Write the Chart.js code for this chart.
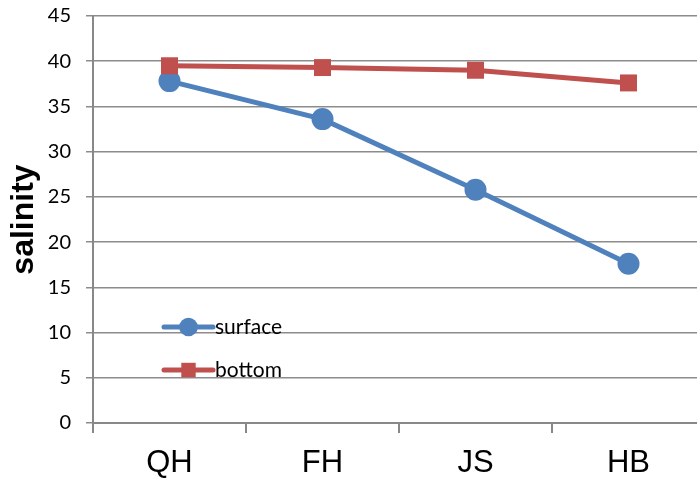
<!DOCTYPE html>
<html>
<head>
<meta charset="utf-8">
<script src="https://cdn.jsdelivr.net/npm/chart.js@4"></script>
<style>
  html, body { margin: 0; padding: 0; background: #fff; overflow: hidden; }
  #wrap { width: 720px; height: 480px; }
</style>
</head>
<body>
<div id="wrap"><canvas id="myChart" width="720" height="480"></canvas></div>
<script>
var sites = ["QH", "FH", "JS", "HB"];
var surface = [37.8, 33.6, 25.8, 17.6];
var bottom = [39.5, 39.3, 39.0, 37.6];
var yTicks = [0, 5, 10, 15, 20, 25, 30, 35, 40, 45];

var blue = "#4F81BD";
var red = "#C0504D";

// legend drawn inside the plot, like the original
var innerLegend = {
  id: "innerLegend",
  afterDatasetsDraw: function(chart) {
    var ctx = chart.ctx;
    var a = chart.chartArea;
    var rows = [
      { ds: chart.data.datasets[0], y: a.top + 311 },
      { ds: chart.data.datasets[1], y: a.top + 354 }
    ];
    ctx.save();
    rows.forEach(function(r) {
      var x0 = a.left + 71, x1 = a.left + 120, mx = (x0 + x1) / 2;
      ctx.strokeStyle = r.ds.borderColor;
      ctx.lineWidth = 5;
      ctx.lineCap = "round";
      ctx.beginPath();
      ctx.moveTo(x0, r.y);
      ctx.lineTo(x1, r.y);
      ctx.stroke();
      ctx.fillStyle = r.ds.pointBackgroundColor;
      Chart.helpers.drawPoint(ctx, { pointStyle: r.ds.pointStyle, radius: r.ds.pointRadius * 0.85, rotation: 0, borderWidth: 0 }, mx, r.y);
      ctx.fillStyle = "#000";
      ctx.font = "21px Lato, 'Liberation Sans', sans-serif";
      ctx.textBaseline = "middle";
      ctx.textAlign = "left";
      ctx.fillText(r.ds.label, x1 + 2, r.y);
    });
    ctx.restore();
  }
};

var ctx = document.getElementById("myChart").getContext("2d");
var myChart = new Chart(ctx, {
  type: "line",
  data: {
    labels: sites,
    datasets: [{
      label: "surface",
      data: surface,
      borderColor: blue,
      backgroundColor: blue,
      pointBackgroundColor: blue,
      pointBorderColor: blue,
      borderWidth: 5,
      pointStyle: "circle",
      pointRadius: 11,
      pointBorderWidth: 0,
      fill: false,
      order: 2
    }, {
      label: "bottom",
      data: bottom,
      borderColor: red,
      backgroundColor: red,
      pointBackgroundColor: red,
      pointBorderColor: red,
      borderWidth: 5,
      pointStyle: "rect",
      pointRadius: 12,
      pointBorderWidth: 0,
      fill: false,
      order: 1
    }]
  },
  options: {
    responsive: false,
    animation: false,
    layout: { padding: { top: 16, right: 15, left: 0, bottom: 0 } },
    plugins: {
      legend: { display: false },
      tooltip: { enabled: false }
    },
    scales: {
      x: {
        offset: true,
        grid: { drawOnChartArea: false, drawTicks: true, tickLength: 10, offset: true, color: "#888", lineWidth: 2 },
        border: { color: "#888", width: 2 },
        ticks: { color: "#000", font: { family: "'Liberation Sans', Arial, sans-serif", size: 31 }, padding: 12 },
        afterFit: function(s) { s.height = 57; }
      },
      y: {
        min: 0,
        max: 45,
        afterBuildTicks: function(s) { s.ticks = yTicks.map(function(v) { return { value: v }; }); },
        grid: { color: "#8c8c8c", lineWidth: 1.5, tickLength: 7 },
        border: { color: "#888", width: 2 },
        ticks: { color: "#000", font: { family: "Lato, 'Liberation Sans', sans-serif", size: 20 }, padding: 15 },
        title: { display: true, text: "salinity", color: "#000", font: { family: "'Liberation Sans', Arial, sans-serif", size: 32, weight: "bold" }, padding: { top: 5, bottom: 0 } },
        afterFit: function(s) { s.width = 93; s.paddingTop = 0; s.paddingBottom = 0; }
      }
    }
  },
  plugins: [innerLegend]
});
</script>
</body>
</html>
